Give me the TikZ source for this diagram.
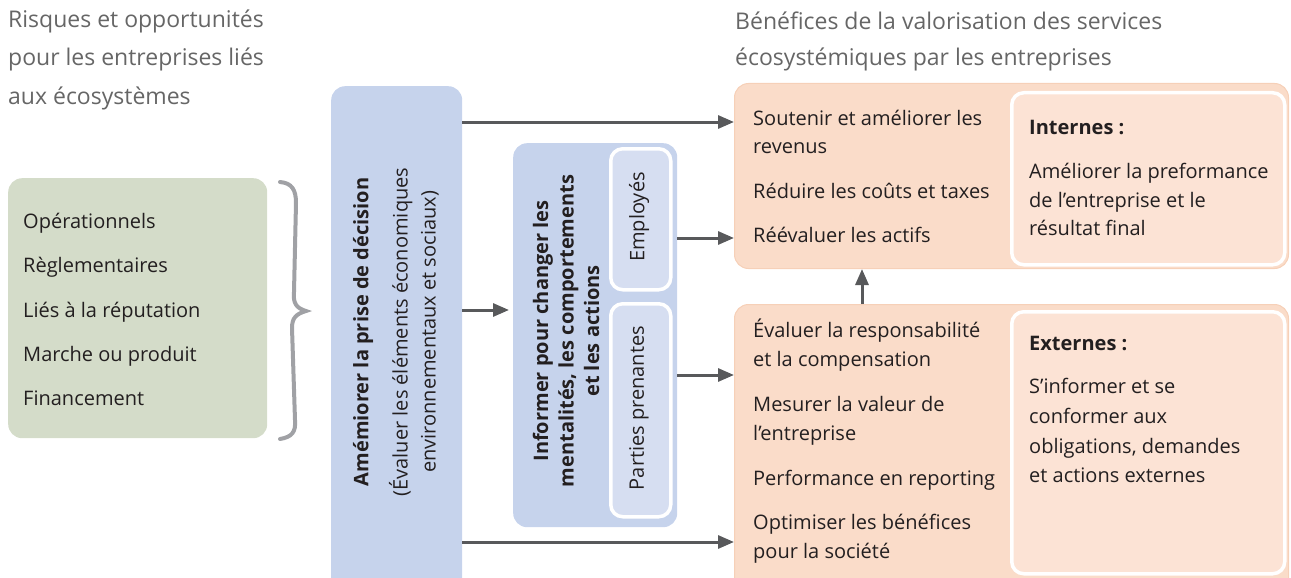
\documentclass[tikz,border=0pt]{standalone}
\usepackage{fontspec}
\setmainfont{Open Sans}
\usetikzlibrary{arrows.meta}
\definecolor{greenfill}{HTML}{D4DCC9}
\definecolor{bluefill}{HTML}{C6D3EC}
\definecolor{bluelight}{HTML}{D6DEF1}
\definecolor{orangefill}{HTML}{FADCC9}
\definecolor{orangeedge}{HTML}{F6D0B8}
\definecolor{orangelight}{HTML}{FCE3D5}
\definecolor{titlegray}{HTML}{666666}
\definecolor{bracegray}{HTML}{A0A1A5}
\definecolor{arrowgray}{HTML}{58595B}
\definecolor{textc}{HTML}{231F20}
\tikzset{
  box/.style={anchor=north west, inner sep=0pt, rounded corners=14pt},
  subbox/.style={anchor=north west, inner sep=0pt, rounded corners=12pt, draw=white, line width=3.5pt},
  txt/.style={font=\fontsize{20}{24}\selectfont, text=textc, inner sep=0pt, anchor=base west},
  btxt/.style={font=\fontsize{20}{24}\selectfont\bfseries, text=textc, inner sep=0pt, anchor=base west},
  ttl/.style={font=\fontsize{23}{27}\selectfont, text=titlegray, inner sep=0pt, anchor=base west},
  arr/.style={draw=arrowgray, line width=3pt, -{Triangle[length=16pt,width=13pt]}},
}
\begin{document}
\begin{tikzpicture}[x=1pt,y=-1pt]
\useasboundingbox (0,0) rectangle (1291,578);
\clip (0,0) rectangle (1291,578);

% titles
\node[ttl] (tl1) at (8,28) {Risques et opportunités};
\node[ttl] (tl2) at (8,66) {pour les entreprises liés};
\node[ttl] (tl3) at (8,104) {aux écosystèmes};
\node[ttl] (tr1) at (735,30) {Bénéfices de la valorisation des services};
\node[ttl] (tr2) at (735,66) {écosystémiques par les entreprises};

% green box
\node[box, fill=greenfill, minimum width=259pt, minimum height=260pt] (risks) at (8,178) {};
\node[txt] (g1) at (23,228) {Opérationnels};
\node[txt] (g2) at (23,272.5) {Règlementaires};
\node[txt] (g3) at (23,317) {Liés à la réputation};
\node[txt] (g4) at (23,361.5) {Marche ou produit};
\node[txt] (g5) at (23,405) {Financement};

% brace
\draw[bracegray, line width=4pt, line cap=round]
  (280,182) .. controls (292,183) and (296,190) .. (296,203)
  -- (294,292) .. controls (293,303) and (296,308) .. (306,311)
  .. controls (296,314) and (292,318) .. (292,328)
  -- (295,420) .. controls (296,432) and (292,437) .. (280,439);

% decision box
\node[box, fill=bluefill, minimum width=131pt, minimum height=510pt] (dec) at (331,86) {};
\node[font=\fontsize{20}{24}\selectfont\bfseries, text=textc, rotate=90, inner sep=0pt] (decT) at (363,332) {Amémiorer la prise de décision};
\node[font=\fontsize{20}{28}\selectfont, text=textc, rotate=90, inner sep=0pt, align=center] (decS) at (414,332) {(Évaluer les éléments économiques\\environnementaux et sociaux)};

% inform box
\node[box, fill=bluefill, minimum width=164pt, minimum height=384pt] (info) at (513,143) {};
\node[font=\fontsize{20}{25.5}\selectfont\bfseries, text=textc, rotate=90, inner sep=0pt, align=center] (infoT) at (566,331) {Informer pour changer les\\mentalités, les comportements\\et les actions};
\node[subbox, fill=bluelight, minimum width=60pt, minimum height=141pt] (emp) at (609,147) {};
\node[font=\fontsize{20}{24}\selectfont, text=textc, rotate=90, inner sep=0pt] (empT) at (639,217) {Employés};
\node[subbox, fill=bluelight, minimum width=60pt, minimum height=213pt] (stake) at (609,302) {};
\node[font=\fontsize{20}{24}\selectfont, text=textc, rotate=90, inner sep=0pt] (stakeT) at (639,408) {Parties prenantes};

% top orange box
\node[box, fill=orangefill, draw=orangeedge, line width=1pt, minimum width=554pt, minimum height=185pt] (top) at (734,83) {};
\node[subbox, fill=orangelight, minimum width=273pt, minimum height=172pt] (topin) at (1010,91) {};
\node[txt] (s1) at (753,125) {Soutenir et améliorer les};
\node[txt] (s2) at (753,153) {revenus};
\node[txt] (s3) at (753,198) {Réduire les coûts et taxes};
\node[txt] (s4) at (753,242) {Réévaluer les actifs};
\node[btxt] (i0) at (1029,134) {Internes :};
\node[txt] (i1) at (1029,178) {Améliorer la preformance};
\node[txt] (i2) at (1029,207) {de l’entreprise et le};
\node[txt] (i3) at (1029,235) {résultat final};

% bottom orange box
\node[box, fill=orangefill, draw=orangeedge, line width=1pt, minimum width=554pt, minimum height=290pt] (bot) at (734,304) {};
\node[subbox, fill=orangelight, minimum width=273pt, minimum height=262pt] (botin) at (1010,310) {};
\node[txt] (b1) at (753,337) {Évaluer la responsabilité};
\node[txt] (b2) at (753,366) {et la compensation};
\node[txt] (b3) at (753,411) {Mesurer la valeur de};
\node[txt] (b4) at (753,440) {l’entreprise};
\node[txt] (b5) at (753,485) {Performance en reporting};
\node[txt] (b6) at (753,529) {Optimiser les bénéfices};
\node[txt] (b7) at (753,558) {pour la société};
\node[btxt] (e0) at (1029,350) {Externes :};
\node[txt] (e1) at (1029,393) {S’informer et se};
\node[txt] (e2) at (1029,423) {conformer aux};
\node[txt] (e3) at (1029,453) {obligations, demandes};
\node[txt] (e4) at (1029,482) {et actions externes};

% arrows
\coordinate (y1) at (0,122);
\coordinate (y2) at (0,310);
\coordinate (y3) at (0,542);
\coordinate (y4) at (0,238);
\coordinate (y5) at (0,375);
\coordinate (xu) at (862,0);
\draw[arr] (dec.east |- y1) -- (top.west |- y1);
\draw[arr] (dec.east |- y2) -- ([xshift=-4pt]info.west |- y2);
\draw[arr] (dec.east |- y3) -- (bot.west |- y3);
\draw[arr] (info.east |- y4) -- (top.west |- y4);
\draw[arr] (info.east |- y5) -- (bot.west |- y5);
\draw[arr] (bot.north -| xu) -- (top.south -| xu);
\end{tikzpicture}
\end{document}
